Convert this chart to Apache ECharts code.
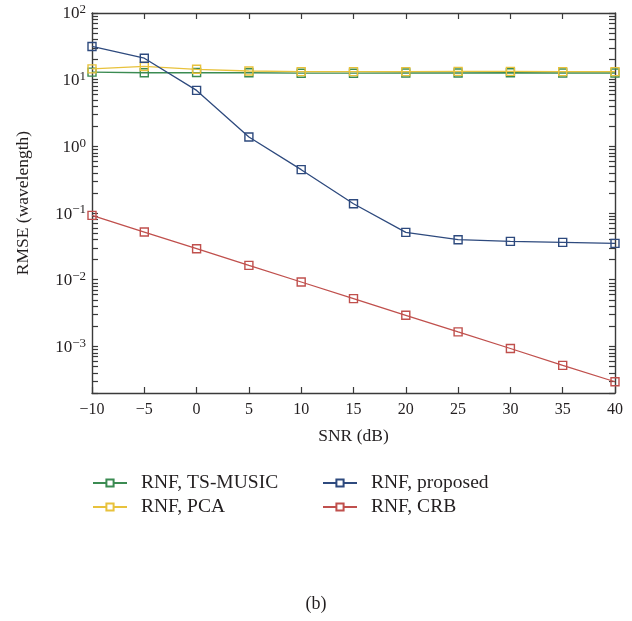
<!DOCTYPE html>
<html>
<head>
<meta charset="utf-8">
<script src="https://cdn.jsdelivr.net/npm/echarts@6/dist/echarts.min.js"></script>
<style>
  html, body { margin: 0; padding: 0; background: #fff; }
  #chart { width: 632px; height: 621px; }
</style>
</head>
<body>
<div id="chart"></div>
<script>
// SNR sweep (dB)
const snr = [-10, -5, 0, 5, 10, 15, 20, 25, 30, 35, 40];

// RMSE in wavelengths for each estimator
const tsMusic = [13.0, 12.7, 12.8, 12.7, 12.5, 12.5, 12.6, 12.6, 12.7, 12.6, 12.6];
const pca = [14.5, 15.8, 14.3, 13.5, 13.2, 13.2, 13.2, 13.3, 13.3, 13.2, 13.2];
const proposed = [31.5, 21.0, 6.9, 1.38, 0.447, 0.138, 0.0513, 0.0398, 0.0376, 0.0363, 0.0351];
const crb = [0.0923, 0.0519, 0.0292, 0.0164, 0.00924, 0.0052, 0.00293, 0.00165, 0.00093, 0.00052, 0.000295];

const seriesNames = ['RNF, TS-MUSIC', 'RNF, PCA', 'RNF, proposed', 'RNF, CRB'];

// Axis range and tick positions
const yMin = 2e-4;
const yMax = 100;
const decadeLabels = [1e-3, 1e-2, 1e-1, 1e0, 1e1, 1e2];
const logTicks = [];
for (let e = -4; e <= 1; e++) {
  for (let m = 1; m <= 9; m++) {
    const v = m * Math.pow(10, e);
    if (v >= yMin * 0.999 && v <= yMax * 1.001) logTicks.push(+v.toPrecision(3));
  }
}
logTicks.push(yMax);

const colors = ['#3b8b52', '#e8c23c', '#2e4a7e', '#c0504d'];
const FONT = '"Liberation Serif", "DejaVu Serif", serif';
const TEXT = '#231f20';
const AXIS = '#3a3a3a';

function toPairs(ys) { return snr.map((x, i) => [x, ys[i]]); }

function supLabel(v) {
  const e = Math.round(Math.log10(v));
  const s = (e < 0 ? '\u2212' + (-e) : String(e));
  return '{b|10}{s|' + s + '}';
}

const tickStyle = { inside: true, length: 6, lineStyle: { color: AXIS, width: 1.2 } };
const axisLineStyle = { onZero: false, lineStyle: { color: AXIS, width: 1.4 } };

function mkSeries(name, data, idx) {
  return {
    name: name,
    type: 'line',
    data: toPairs(data),
    symbol: 'rect',
    symbolSize: 8,
    showSymbol: true,
    z: 2 + idx,
    lineStyle: { color: colors[idx], width: 1.3 },
    itemStyle: { color: 'rgba(255,255,255,0)', borderColor: colors[idx], borderWidth: 1.4 },
    emphasis: { disabled: true },
    animation: false
  };
}

const legendText = { fontFamily: FONT, fontSize: 19.5, color: TEXT, padding: [0, 0, 0, 9] };
const legendItem = { color: '#ffffff' };

const chart = echarts.init(document.getElementById('chart'), null, { renderer: 'canvas' });

chart.setOption({
  animation: false,
  backgroundColor: '#fff',
  textStyle: { fontFamily: FONT, color: TEXT },
  grid: { left: 92, right: 17, top: 13, bottom: 228, containLabel: false },
  title: {
    text: '(b)',
    left: 311,
    top: 590,
    textAlign: 'center',
    textStyle: { fontFamily: FONT, fontSize: 18, fontWeight: 'normal', color: TEXT }
  },
  legend: [
    {
      data: [seriesNames[0], seriesNames[1]],
      left: 92, top: 473, orient: 'vertical', padding: 0,
      itemWidth: 34, itemHeight: 9, itemGap: 4,
      itemStyle: legendItem,
      textStyle: legendText
    },
    {
      data: [seriesNames[2], seriesNames[3]],
      left: 322, top: 473, orient: 'vertical', padding: 0,
      itemWidth: 34, itemHeight: 9, itemGap: 4,
      itemStyle: legendItem,
      textStyle: legendText
    }
  ],
  xAxis: [
    {
      type: 'value', min: -10, max: 40, interval: 5,
      position: 'bottom',
      name: 'SNR (dB)', nameLocation: 'middle', nameGap: 34,
      nameTextStyle: { fontFamily: FONT, fontSize: 17.5, color: TEXT },
      axisLine: axisLineStyle,
      axisTick: tickStyle,
      axisLabel: {
        margin: 9, fontFamily: FONT, fontSize: 16, color: TEXT,
        formatter: v => (v < 0 ? '\u2212' + (-v) : String(v))
      },
      splitLine: { show: false }
    },
    {
      type: 'value', min: -10, max: 40, interval: 5,
      position: 'top',
      axisLine: axisLineStyle,
      axisTick: tickStyle,
      axisLabel: { show: false },
      splitLine: { show: false }
    }
  ],
  yAxis: [
    {
      type: 'log', logBase: 10, min: yMin, max: yMax,
      position: 'left',
      name: 'RMSE (wavelength)', nameLocation: 'middle', nameGap: 60,
      nameTextStyle: { fontFamily: FONT, fontSize: 17.5, color: TEXT },
      axisLine: axisLineStyle,
      axisTick: Object.assign({ customValues: logTicks }, tickStyle),
      axisLabel: {
        customValues: decadeLabels,
        margin: 6,
        formatter: supLabel,
        rich: {
          b: { fontFamily: FONT, fontSize: 17, color: TEXT, lineHeight: 19, verticalAlign: 'bottom' },
          s: { fontFamily: FONT, fontSize: 13, color: TEXT, lineHeight: 13, verticalAlign: 'top' }
        }
      },
      splitLine: { show: false },
      minorTick: { show: false }
    },
    {
      type: 'log', logBase: 10, min: yMin, max: yMax,
      position: 'right',
      axisLine: axisLineStyle,
      axisTick: Object.assign({ customValues: logTicks }, tickStyle),
      axisLabel: { show: false },
      splitLine: { show: false }
    }
  ],
  series: [
    mkSeries(seriesNames[0], tsMusic, 0),
    mkSeries(seriesNames[1], pca, 1),
    mkSeries(seriesNames[2], proposed, 2),
    mkSeries(seriesNames[3], crb, 3)
  ]
});
</script>
</body>
</html>
